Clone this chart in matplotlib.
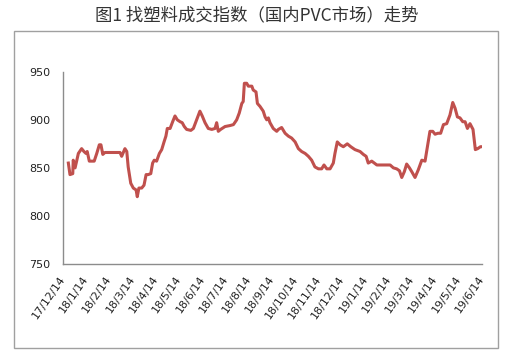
import matplotlib
matplotlib.use('Agg')
import matplotlib.pyplot as plt
from matplotlib.patches import Rectangle

# x = months since 2017-12-14, y = index value
months = [0.23, 0.30, 0.42, 0.44, 0.52, 0.66, 0.80, 0.90, 0.99, 1.04,
          1.13, 1.34, 1.45, 1.56, 1.63, 1.71, 1.80, 2.45, 2.52, 2.66,
          2.74, 2.80, 2.91, 3.02, 3.14, 3.19, 3.26, 3.38, 3.48, 3.57,
          3.66, 3.77, 3.85, 3.92, 4.02, 4.14, 4.24, 4.34, 4.42, 4.48,
          4.60, 4.71, 4.81, 4.91, 5.03, 5.12, 5.21, 5.31, 5.49, 5.60,
          5.74, 5.88, 5.98, 6.10, 6.24, 6.39, 6.53, 6.60, 6.67, 6.77,
          6.96, 7.17, 7.32, 7.46, 7.57, 7.68, 7.74, 7.79, 7.89, 7.96,
          8.11, 8.17, 8.29, 8.35, 8.46, 8.60, 8.68, 8.75, 8.82, 8.89,
          9.03, 9.18, 9.25, 9.39, 9.54, 9.68, 9.82, 9.97, 10.11, 10.25,
          10.40, 10.54, 10.68, 10.82, 10.97, 11.11, 11.21, 11.33, 11.47, 11.61,
          11.68, 11.78, 11.90, 12.04, 12.21, 12.36, 12.54, 12.76, 12.90, 13.02,
          13.11, 13.26, 13.48, 14.05, 14.19, 14.33, 14.45, 14.55, 14.66, 14.76,
          14.88, 14.98, 15.12, 15.26, 15.41, 15.55, 15.65, 15.76, 15.88, 15.98,
          16.10, 16.22, 16.34, 16.48, 16.62, 16.74, 16.84, 16.94, 17.05, 17.17,
          17.27, 17.37, 17.48, 17.61, 17.71, 17.81, 17.93, 18.03]
index = [855, 843, 844, 858, 850, 865, 870, 867, 865, 867,
         857, 857, 865, 874, 874, 864, 866, 866, 862, 870,
         867, 851, 834, 829, 827, 820, 829, 829, 832, 843,
         843, 844, 855, 858, 857, 865, 869, 877, 883, 891,
         891, 898, 904, 900, 898, 897, 893, 890, 889, 891,
         900, 909, 904, 897, 891, 890, 891, 897, 888, 890,
         893, 894, 895, 900, 907, 917, 919, 938, 938, 935,
         935, 931, 929, 917, 914, 909, 903, 900, 902, 897,
         891, 888, 890, 892, 886, 883, 881, 877, 870, 867,
         865, 862, 858, 851, 849, 849, 853, 849, 849, 855,
         865, 877, 874, 872, 875, 872, 869, 867, 864, 862,
         855, 857, 853, 853, 850, 849, 847, 840, 846, 854,
         850, 846, 840, 848, 858, 857, 872, 888, 888, 885,
         886, 886, 895, 896, 905, 918, 912, 903, 902, 898,
         898, 891, 896, 890, 869, 870, 872, 872]

tick_labels = ['17/12/14', '18/1/14', '18/2/14', '18/3/14', '18/4/14', '18/5/14',
               '18/6/14', '18/7/14', '18/8/14', '18/9/14', '18/10/14', '18/11/14',
               '18/12/14', '19/1/14', '19/2/14', '19/3/14', '19/4/14', '19/5/14',
               '19/6/14']
y_ticks = [750, 800, 850, 900, 950]

fig = plt.figure(figsize=(5.08, 3.58), dpi=100)
ax = fig.add_axes([0.124, 0.2626, 0.825, 0.537])

ax.plot(months, index, color='#C0504D', linewidth=2.2)

ax.set_xlim(0, 18)
ax.set_ylim(750, 950)
ax.set_xticks(range(len(tick_labels)))
ax.set_xticklabels(tick_labels, rotation=55, ha='right', va='center',
                   rotation_mode='anchor', fontsize=8, color='#222222')
ax.set_yticks(y_ticks)
ax.set_yticklabels([str(v) for v in y_ticks], fontsize=8, color='#222222')
ax.tick_params(axis='both', length=0)
ax.tick_params(axis='y', pad=9)
ax.tick_params(axis='x', pad=9)

for s in ['top', 'right']:
    ax.spines[s].set_visible(False)
for s in ['left', 'bottom']:
    ax.spines[s].set_color('#8c8c8c')
    ax.spines[s].set_linewidth(1)

# outer frame
fig.patches.append(Rectangle((0.0276, 0.0288), 0.953, 0.885, transform=fig.transFigure,
                             fill=False, edgecolor='#a0a0a0', linewidth=1))

fig.text(0.505, 0.958, '图1 找塑料成交指数（国内PVC市场）走势', ha='center', va='center',
         fontsize=12.5, color='#333333', family=['Noto Sans CJK SC', 'DejaVu Sans'])

fig.savefig('out.png', dpi=100)
